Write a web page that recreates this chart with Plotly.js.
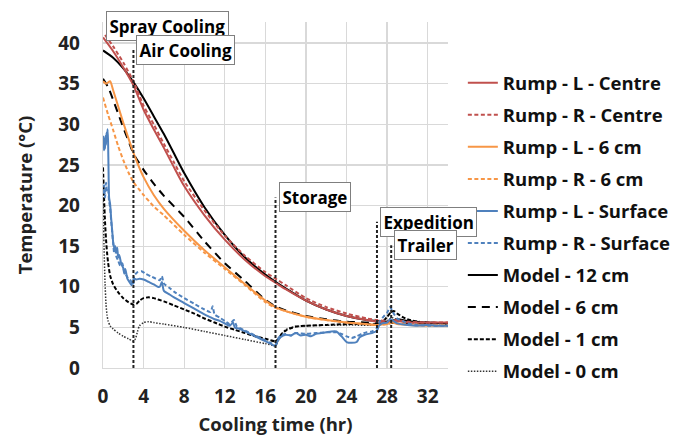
<!DOCTYPE html>
<html>
<head>
<meta charset="utf-8">
<script src="https://cdn.plot.ly/plotly-3.0.1.min.js"></script>
<style>html,body{margin:0;padding:0;background:#fff;}#chart{width:687px;height:436px;}</style>
</head>
<body>
<div id="chart"></div>
<script>
// ---- Data ----
var seriesNames = ["Rump - L - Centre","Rump - R - Centre","Rump - L - 6 cm","Rump - R - 6 cm","Rump - L - Surface","Rump - R - Surface","Model - 12 cm","Model - 6 cm","Model - 1 cm","Model - 0 cm"];

var tLCentre = [0,1,2,3,4,5,6,7,8,10,12,14,16,17,18,20,22,24,26,27,28,29,30,32,34];
var yLCentre = [40.7,39.0,37.0,34.8,31.8,29.4,27.1,24.7,22.4,18.8,15.8,13.3,11.3,10.5,9.7,8.3,7.2,6.4,5.9,5.7,5.6,5.8,5.6,5.6,5.6];

var tRCentre = [0.2,1,2,3,4,5,6,7,8,10,12,14,16,17,18,20,22,24,26,27,28,29,30,32,34];
var yRCentre = [41.0,39.6,37.6,35.3,32.3,30.0,27.6,25.3,23.0,19.4,16.3,13.8,11.8,11.0,10.2,8.6,7.5,6.7,6.1,5.9,5.8,5.9,5.7,5.6,5.6];

var tL6 = [0,0.3,0.7,1,1.5,2,2.5,3,3.5,4,5,6,8,10,12,14,16,17,18,20,22,24,26,27,28,28.5,29,30,32,34];
var yL6 = [35.3,35.0,35.3,34.2,32.2,30.2,28.3,26.5,24.9,23.5,21.3,19.6,16.9,14.5,12.4,10.3,8.3,7.5,7.0,6.3,5.9,5.6,5.4,5.3,5.4,5.6,5.4,5.3,5.2,5.2];

var tR6 = [0,0.5,1,1.5,2,2.5,3,4,5,6,8,10,12,14,16,17,18,20,22,24,26,27,28,28.5,29,30,32,34];
var yR6 = [33.3,31.2,29.3,27.3,25.6,24.1,22.9,21.3,19.9,18.8,16.4,14.2,12.2,10.2,8.1,7.4,7.0,6.3,5.9,5.6,5.4,5.3,5.4,5.7,5.5,5.4,5.3,5.3];

var tLSurf = [0,0.05,0.1,0.15,0.2,0.25,0.3,0.35,0.4,0.45,0.5,0.55,0.6,0.7,0.8,0.9,1.0,1.1,1.2,1.3,1.4,1.5,1.6,1.8,2.0,2.1,2.2,2.4,2.6,2.8,2.9,3.0,3.1,3.3,3.6,4.0,4.5,5.0,5.4,5.6,5.8,6.0,6.5,7,8,9,10,10.5,11,11.5,12,12.5,12.8,13,13.5,14,14.5,15,15.5,16,16.5,17,17.2,17.5,18,18.5,19,19.5,20,20.5,21,21.5,22,22.5,23,23.5,24,24.5,25,25.3,25.8,26.5,27,27.2,27.5,28,28.3,28.6,29,30,31,32,33,34];
var yLSurf = [27.8,28.5,26.8,28.2,27.0,28.6,27.5,29.0,28.2,29.4,28.0,24.0,21.0,20.2,18.5,17.0,15.5,14.8,15.0,14.2,14.8,13.6,13.9,12.8,12.3,11.6,12.2,11.0,10.6,10.2,10.6,10.4,11.0,10.9,11.0,10.9,10.6,10.3,10.0,10.0,10.6,9.5,9.1,8.7,8.0,7.3,6.6,6.3,6.0,5.8,5.5,5.2,5.6,5.0,4.8,4.5,4.2,3.9,3.6,3.3,3.0,2.7,3.3,3.8,4.1,4.0,4.3,4.0,4.1,3.9,4.2,4.3,4.4,4.5,4.5,3.9,3.2,3.1,3.2,3.8,4.1,4.3,4.6,5.2,5.5,5.6,6.0,5.8,5.5,5.3,5.2,5.3,5.2,5.2];

var tRSurf = [0,0.1,0.2,0.3,0.4,0.5,0.6,0.7,0.8,0.9,1.0,1.1,1.2,1.3,1.5,1.7,1.9,2.1,2.3,2.5,2.7,2.9,3.1,3.4,3.8,4.2,4.7,5.2,5.6,5.8,6.0,6.5,7,8,9,10,10.6,10.8,11.0,11.5,12,12.5,12.9,13.2,13.5,14,15,16,16.5,17,17.2,17.5,18,18.5,19,20,21,22,23,23.5,24,24.5,25,25.5,26,26.5,27,27.3,27.7,28.0,28.3,28.6,29,29.5,30,31,32,34];
var yRSurf = [21.5,22.5,21.0,22.8,21.8,22.0,20.5,19.8,18.2,16.8,15.4,14.2,14.9,13.8,13.2,12.6,12.9,11.8,11.4,11.0,10.8,10.5,11.4,11.8,11.9,11.6,11.3,11.0,10.8,11.3,10.4,9.9,9.4,8.6,7.9,7.2,6.9,7.6,6.6,6.2,5.8,5.4,5.9,5.1,4.9,4.6,4.0,3.4,3.1,2.9,3.5,4.0,4.2,4.0,4.3,4.2,4.3,4.4,4.4,4.2,3.9,3.7,3.9,4.2,4.4,4.5,4.9,5.8,6.4,6.8,7.5,6.8,6.1,5.8,5.5,5.3,5.2,5.2];

var tM12 = [0,1,2,3,4,5,6,7,8,10,12,14,16,17,18,20,22,24,26,27,28,28.5,29,30,32,34];
var yM12 = [39.1,38.2,36.9,35.2,33.2,31.0,28.8,26.4,24.0,19.8,16.4,13.6,11.5,10.6,9.8,8.3,7.2,6.4,5.9,5.8,5.7,5.8,6.0,5.8,5.6,5.5];

var tM6 = [0,0.5,1,1.5,2,2.5,3,4,5,6,8,10,12,14,16,17,18,20,22,24,26,27,28,29,30,32,34];
var yM6 = [35.6,34.6,33.0,31.3,29.6,28.0,26.4,24.4,22.7,21.2,18.6,15.6,12.9,10.7,8.4,7.6,7.1,6.4,6.0,5.7,5.6,5.5,5.5,5.6,5.5,5.5,5.5];

var tM1 = [0,0.1,0.2,0.3,0.4,0.5,0.7,1.0,1.5,2.0,2.5,3.0,3.3,3.6,4.0,4.5,5,6,7,8,9,10,11,12,13,14,15,16,17,17.3,17.6,18,18.5,19,20,22,24,26,27,27.5,28,28.4,28.7,29,29.5,30,31,32,34];
var yM1 = [24.7,21.0,18.0,15.8,14.2,13.0,11.4,10.3,9.3,8.6,8.1,7.8,7.9,8.3,8.6,8.7,8.6,8.2,7.7,7.2,6.7,6.1,5.6,5.1,4.7,4.3,3.9,3.6,3.3,3.6,4.2,4.6,4.9,5.1,5.2,5.3,5.4,5.4,5.4,5.6,6.3,6.9,7.0,6.7,6.3,6.0,5.7,5.6,5.5];

var tM0 = [0,0.1,0.2,0.3,0.4,0.5,0.7,1.0,1.5,2.0,2.5,3.0,3.2,3.4,3.6,4.0,4.5,5,6,8,10,12,14,16,17,17.3,17.6,18,18.5,19,20,24,27,28,28.5,29,30,32,34];
var yM0 = [21.0,15.0,10.5,7.8,6.5,5.8,5.2,4.8,4.3,3.9,3.6,3.3,3.6,4.5,5.2,5.6,5.7,5.6,5.4,5.0,4.5,4.0,3.5,3.0,2.8,3.4,4.2,4.7,5.0,5.1,5.2,5.3,5.3,5.8,6.2,5.9,5.6,5.5,5.4];

// Stage markers
var stageLabels = ["Spray Cooling","Air Cooling","Storage","Expedition","Trailer"];
var stageTimes  = [0, 3, 17, 27, 28.4];
var stageTops   = [42.05, 39.2, 21.0, 18.0, 15.1];
var stageHasLine = [false, true, true, true, true];

var xTickVals = [0,4,8,12,16,20,24,28,32];
var yTickVals = [0,5,10,15,20,25,30,35,40];

// ---- Styles ----
var RED = "#C0504D", ORANGE = "#F79646", BLUE = "#4F81BD";
var FONT = "'Open Sans', Lato, 'DejaVu Sans', sans-serif";
var styles = [
  {color: RED, dash: "solid", width: 2},
  {color: RED, dash: "4px,2.5px", width: 2},
  {color: ORANGE, dash: "solid", width: 2},
  {color: ORANGE, dash: "4px,2.5px", width: 2},
  {color: BLUE, dash: "solid", width: 2},
  {color: BLUE, dash: "4px,2.5px", width: 2},
  {color: "#000000", dash: "solid", width: 2},
  {color: "#000000", dash: "8px,6px", width: 2},
  {color: "#000000", dash: "4px,2px", width: 2},
  {color: "#333333", dash: "1.5px,1.5px", width: 1.5}
];
var xs = [tLCentre,tRCentre,tL6,tR6,tLSurf,tRSurf,tM12,tM6,tM1,tM0];
var ys = [yLCentre,yRCentre,yL6,yR6,yLSurf,yRSurf,yM12,yM6,yM1,yM0];

var traces = [];
for (var i = 0; i < seriesNames.length; i++) {
  traces.push({
    type: "scatter", mode: "lines",
    x: xs[i], y: ys[i], name: seriesNames[i],
    legendgroup: "g" + i, legendrank: i + 1,
    line: {color: styles[i].color, dash: styles[i].dash, width: styles[i].width, shape: "spline", smoothing: 0.6},
    hoverinfo: "skip"
  });
}
var order = [9,8,7,6,0,1,2,3,4,5];

var shapes = [];
var annotations = [];
for (var k = 0; k < stageLabels.length; k++) {
  if (stageHasLine[k]) {
    shapes.push({type: "line", xref: "x", yref: "y", x0: stageTimes[k], x1: stageTimes[k], y0: 0, y1: stageTops[k],
      line: {color: "#222222", width: 2, dash: "3px,2px"}});
  }
  annotations.push({
    xref: "x", yref: "y", x: stageTimes[k], y: stageTops[k], xanchor: "left", yanchor: "middle",
    xshift: 3, text: stageLabels[k], showarrow: false,
    font: {family: FONT, size: 17, color: "#000", weight: "bold"},
    bgcolor: "#ffffff", bordercolor: "#7f7f7f", borderwidth: 1, borderpad: 2.5
  });
}

var layout = {
  width: 687, height: 436,
  margin: {l: 103, r: 238, t: 22, b: 68, pad: 0},
  paper_bgcolor: "#ffffff", plot_bgcolor: "#ffffff",
  font: {family: FONT, color: "#222", weight: "bold"},
  xaxis: {
    range: [0, 34], tickvals: xTickVals, ticktext: xTickVals.map(String),
    showgrid: true, gridcolor: "#d9d9d9", gridwidth: 1.3, zeroline: false,
    showline: true, linecolor: "#d9d9d9", linewidth: 1.3,
    ticks: "", ticklabelstandoff: 11,
    tickfont: {family: FONT, size: 19, color: "#222", weight: "bold"},
    title: {text: "Cooling time (hr)", font: {family: FONT, size: 18.5, color: "#222", weight: "bold"}, standoff: 14}
  },
  yaxis: {
    range: [0, 42.6], tickvals: yTickVals, ticktext: yTickVals.map(String),
    showgrid: true, gridcolor: "#d9d9d9", gridwidth: 1.3, zeroline: false,
    showline: true, linecolor: "#d9d9d9", linewidth: 1.3,
    ticks: "", ticklabelstandoff: 18,
    tickfont: {family: FONT, size: 19, color: "#222", weight: "bold"},
    title: {text: "Temperature (°C)", font: {family: FONT, size: 18.5, color: "#222", weight: "bold"}, standoff: 20}
  },
  showlegend: true,
  legend: {
    x: 1.04, xanchor: "left", y: 0.878, yanchor: "top",
    traceorder: "grouped", tracegroupgap: 5,
    font: {family: FONT, size: 18.5, color: "#111", weight: "bold"},
    bgcolor: "rgba(0,0,0,0)", borderwidth: 0
  },
  shapes: shapes,
  annotations: annotations
};

var ordered = order.map(function(i){ return traces[i]; });
Plotly.newPlot("chart", ordered, layout, {staticPlot: true, displayModeBar: false});
</script>
</body>
</html>
